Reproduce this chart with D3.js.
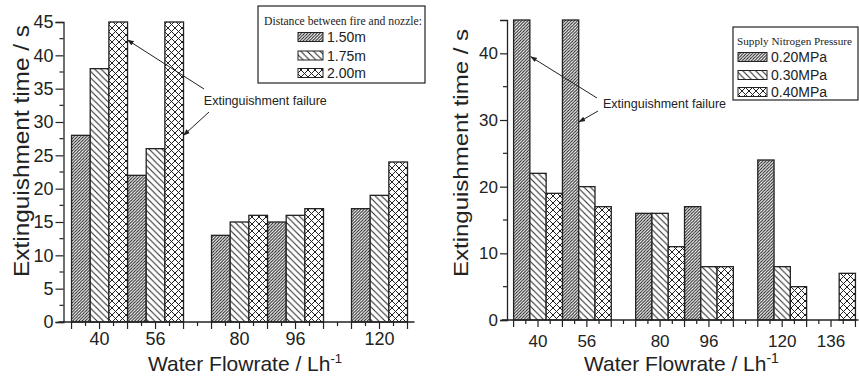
<!DOCTYPE html>
<html>
<head>
<meta charset="utf-8">
<script src="https://cdn.jsdelivr.net/npm/d3@7/dist/d3.min.js"></script>
<style>
  html, body { margin: 0; padding: 0; background: #fff; }
  svg { display: block; }
  text { font-family: "Liberation Sans", Arial, sans-serif; fill: #222; }
  .serif { font-family: "Liberation Serif", "Times New Roman", serif; }
</style>
</head>
<body>
<svg id="chart" width="859" height="377"></svg>
<script>
// ---- data ----
const flowLeft = [40, 56, 80, 96, 120];
const dist150 = [28, 22, 13, 15, 17];
const dist175 = [38, 26, 15, 16, 19];
const dist200 = [45, 45, 16, 17, 24];   // 45 = extinguishment failure (off scale)
const distNames = ["1.50m", "1.75m", "2.00m"];

const flowRight = [40, 56, 80, 96, 120, 136];
const p020 = [45, 45, 16, 17, 24, null]; // 45 = extinguishment failure (off scale)
const p030 = [22, 20, 16, 8, 8, null];
const p040 = [19, 17, 11, 8, 5, 7];
const pressNames = ["0.20MPa", "0.30MPa", "0.40MPa"];

const tickLabelsLeft = [40, 56, 80, 96, 120];
const tickLabelsRight = [40, 56, 80, 96, 120, 136];

const groupWidth = 16;  // flowrate units per bar group

const svg = d3.select("#chart");
const defs = svg.append("defs");
const ink = "#222";

// ---- hatch patterns ----
function hatch(id, size, kind, sw) {
  const p = defs.append("pattern").attr("id", id)
    .attr("patternUnits", "userSpaceOnUse")
    .attr("width", size).attr("height", size);
  p.append("rect").attr("width", size).attr("height", size).attr("fill", "#fff");
  const s = size;
  const fwd = `M${-s/2},${s/2}L${s/2},${-s/2}M0,${s}L${s},0M${s/2},${1.5*s}L${1.5*s},${s/2}`;
  const back = `M${-s/2},${s/2}L${s/2},${1.5*s}M0,0L${s},${s}M${s/2},${-s/2}L${1.5*s},${s/2}`;
  let d = kind === "fwd" ? fwd : kind === "back" ? back : fwd + back;
  p.append("path").attr("d", d).attr("stroke", ink).attr("stroke-width", sw).attr("fill", "none");
}
hatch("h150", 3.1, "fwd", 1);
hatch("h175", 6.4, "back", 1);
hatch("h200", 7, "cross", 1);
const fills = ["url(#h150)", "url(#h175)", "url(#h200)"];

// arrow marker
defs.append("marker").attr("id", "arrow")
  .attr("viewBox", "0 0 10 10").attr("refX", 9).attr("refY", 5)
  .attr("markerWidth", 7).attr("markerHeight", 7).attr("orient", "auto-start-reverse")
  .attr("markerUnits", "userSpaceOnUse")
  .append("path").attr("d", "M0,1.5L10,5L0,8.5Z").attr("fill", ink);

// ---- generic panel ----
function panel(cfg) {
  const g = svg.append("g");
  const x = d3.scaleLinear().domain(cfg.xDomain).range(cfg.xRange);
  const y = d3.scaleLinear().domain([0, 45]).range(cfg.yRange);
  const barW = groupWidth / 3;

  // bars
  cfg.series.forEach((vals, si) => {
    g.append("g").selectAll("rect")
      .data(vals.map((v, i) => ({ c: cfg.cats[i], v })).filter(d => d.v != null))
      .join("rect")
      .attr("x", d => x(d.c - groupWidth / 2 + si * barW))
      .attr("width", d => x(d.c - groupWidth / 2 + (si + 1) * barW) - x(d.c - groupWidth / 2 + si * barW))
      .attr("y", d => y(d.v))
      .attr("height", d => y(0) - y(d.v))
      .attr("fill", fills[si])
      .attr("stroke", ink).attr("stroke-width", 1.3);
  });

  // x axis: major ticks every 8 units, minor at 4
  const y0 = y(0);
  const majors = d3.range(32, cfg.xDomain[1] + 0.01, 8);
  const minors = d3.range(36, cfg.xDomain[1] + 0.01, 8);
  g.append("line").attr("x1", cfg.xRange[0] - 5).attr("x2", cfg.xRange[1])
    .attr("y1", y0).attr("y2", y0).attr("stroke", ink).attr("stroke-width", 1.3);
  g.append("g").selectAll("line").data(majors).join("line")
    .attr("x1", d => x(d)).attr("x2", d => x(d)).attr("y1", y0).attr("y2", y0 + 7)
    .attr("stroke", ink).attr("stroke-width", 1.2);
  g.append("g").selectAll("line").data(minors).join("line")
    .attr("x1", d => x(d)).attr("x2", d => x(d)).attr("y1", y0).attr("y2", y0 + 4)
    .attr("stroke", ink).attr("stroke-width", 1.2);
  g.append("g").selectAll("text").data(cfg.xLabels).join("text")
    .attr("x", d => x(d)).attr("y", cfg.xLabelY)
    .attr("text-anchor", "middle").attr("font-size", cfg.tickFont)
    .text(d => d);

  // y axis
  const yAxis = d3.axisLeft(y).tickValues(d3.range(0, 45.01, cfg.yMajor))
    .tickSize(cfg.yTick).tickPadding(2).tickFormat(d3.format("d"));
  const ya = g.append("g").attr("transform", `translate(${cfg.xRange[0]},0)`).call(yAxis);
  ya.select(".domain").attr("stroke", ink).attr("stroke-width", 1.3);
  ya.selectAll(".tick line").attr("stroke", ink).attr("stroke-width", 1.2);
  ya.selectAll(".tick text").attr("font-size", cfg.tickFont).attr("fill", ink)
    .attr("font-family", "Liberation Sans, Arial, sans-serif");
  g.append("g").selectAll("line")
    .data(d3.range(cfg.yMajor / 2, 45, cfg.yMajor))
    .join("line")
    .attr("x1", cfg.xRange[0] - 4).attr("x2", cfg.xRange[0])
    .attr("y1", d => y(d)).attr("y2", d => y(d))
    .attr("stroke", ink).attr("stroke-width", 1.2);

  // axis titles
  g.append("text")
    .attr("transform", `translate(${cfg.yTitleX},${cfg.yTitleY}) rotate(-90)`)
    .attr("text-anchor", "middle").attr("font-size", cfg.yTitleFont)
    .attr("textLength", cfg.yTitleLen).attr("lengthAdjust", "spacingAndGlyphs")
    .text("Extinguishment time / s");
  const xt = g.append("text").attr("x", cfg.xTitleX).attr("y", 371)
    .attr("font-size", 21);
  xt.append("tspan").text("Water Flowrate / Lh");
  xt.append("tspan").attr("dy", -8).attr("font-size", cfg.supFont).text("-1");

  // failure annotation
  const ann = cfg.ann;
  g.append("text").attr("x", x(ann.text[0])).attr("y", ann.text[1])
    .attr("font-size", 12.5).text("Extinguishment failure");
  ann.arrows.forEach(a => {
    g.append("line")
      .attr("x1", a.from[0]).attr("y1", a.from[1])
      .attr("x2", x(a.tip[0])).attr("y2", y(a.tip[1]))
      .attr("stroke", ink).attr("stroke-width", 1)
      .attr("marker-end", "url(#arrow)");
  });

  // legend
  const L = cfg.legend;
  g.append("rect").attr("x", L.x).attr("y", L.y).attr("width", L.w).attr("height", L.h)
    .attr("fill", "#fff").attr("stroke", ink).attr("stroke-width", 1.2);
  const lt = g.append("text").attr("class", "serif").attr("x", L.titleX).attr("y", L.titleY)
    .attr("font-size", L.titleFont).text(L.title);
  if (L.titleLen) lt.attr("textLength", L.titleLen).attr("lengthAdjust", "spacingAndGlyphs");
  L.names.forEach((n, i) => {
    const cy = L.rowY[i];
    g.append("rect").attr("x", L.swX).attr("y", cy - 4.5).attr("width", L.swW).attr("height", 9)
      .attr("fill", fills[i]).attr("stroke", ink).attr("stroke-width", 1);
    g.append("text").attr("x", L.swX + L.swW + 4).attr("y", cy + 5)
      .attr("font-size", 14).text(n);
  });
}

panel({
  cats: flowLeft,
  series: [dist150, dist175, dist200],
  xDomain: [29.7, 130], xRange: [63.5, 414.5],
  yRange: [322, 22], yMajor: 5, yTick: 8,
  xLabels: tickLabelsLeft, xLabelY: 345, tickFont: 18,
  yTitleX: 29, yTitleY: 151, yTitleFont: 22, yTitleLen: 252,
  xTitleX: 148, supFont: 13,
  ann: { text: [69.8, 105], arrows: [
    { from: [204, 89], tip: [48, 42.3] },
    { from: [209, 112], tip: [64, 28] } ] },
  legend: { x: 258, y: 6, w: 167, h: 77, title: "Distance between fire and nozzle:",
    titleX: 264, titleY: 25, titleFont: 12.5, titleLen: 158, names: distNames,
    swX: 298, swW: 25, rowY: [37, 55.5, 73] }
});

panel({
  cats: flowRight,
  series: [p020, p030, p040],
  xDomain: [29.84, 145], xRange: [507, 858.5],
  yRange: [320, 20], yMajor: 10, yTick: 7,
  xLabels: tickLabelsRight, xLabelY: 347, tickFont: 17,
  yTitleX: 468, yTitleY: 153, yTitleFont: 20, yTitleLen: 248,
  xTitleX: 584, supFont: 14,
  ann: { text: [61.3, 108], arrows: [
    { from: [597, 98], tip: [37.6, 39.5] },
    { from: [598, 111], tip: [53.4, 29.7] } ] },
  legend: { x: 733, y: 27, w: 125, h: 73, title: "Supply Nitrogen Pressure",
    titleX: 737, titleY: 45, titleFont: 11.2, titleLen: null, names: pressNames,
    swX: 738, swW: 29, rowY: [57, 75, 92] }
});
</script>
</body>
</html>
